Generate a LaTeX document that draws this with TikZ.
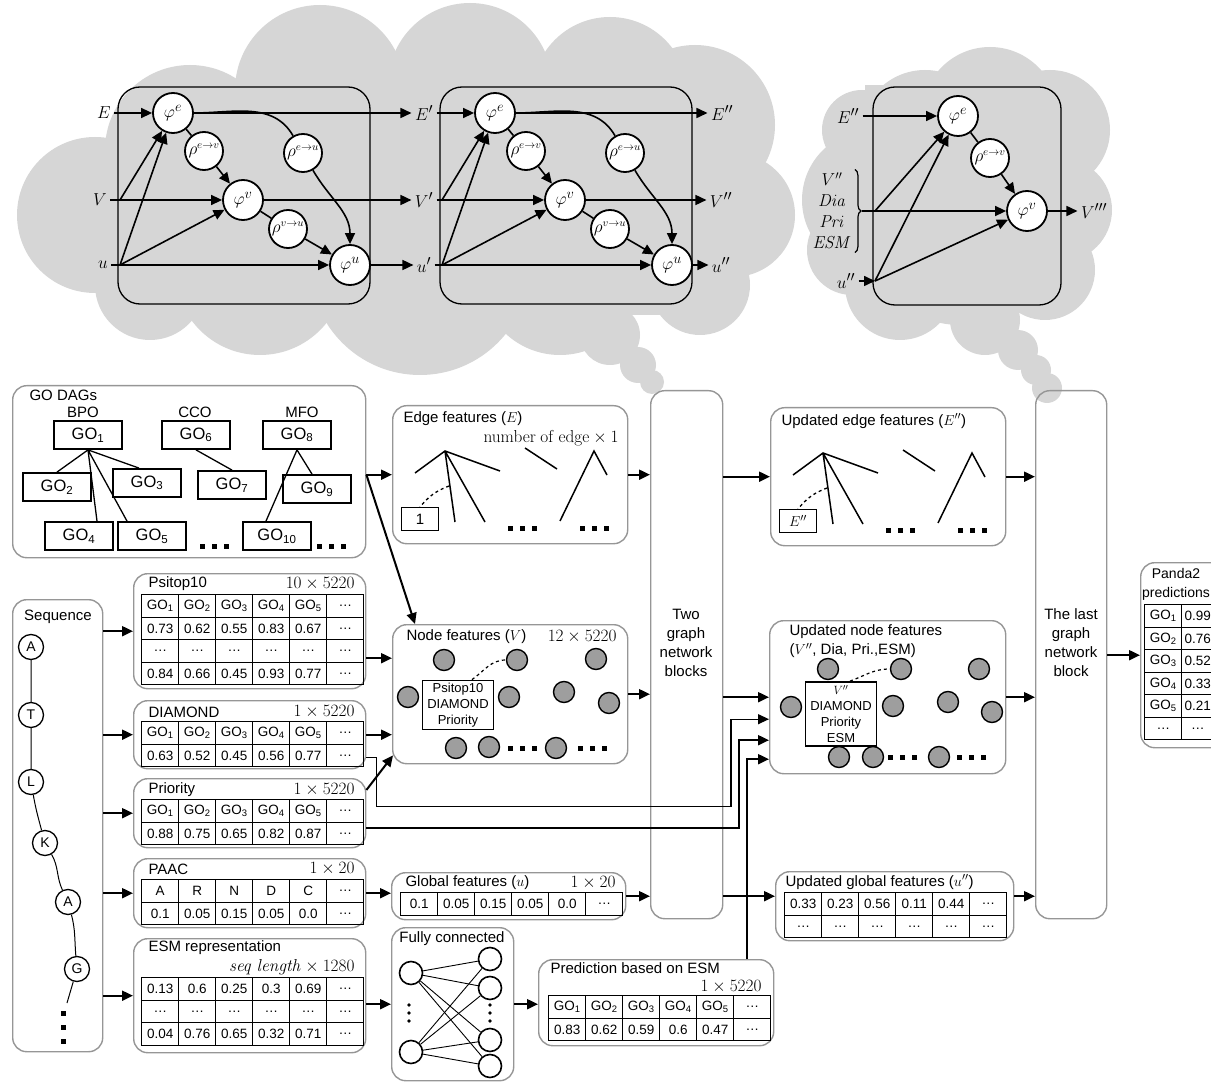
\documentclass[tikz,border=0pt]{standalone}
\usepackage[no-math]{fontspec}
\setmainfont{Liberation Sans}
\usetikzlibrary{positioning,calc,arrows.meta,matrix,decorations.pathreplacing}
\tikzset{>={Triangle[length=11pt,width=10pt]}}

\definecolor{cloudgray}{RGB}{214,214,214}
\definecolor{boxgray}{RGB}{150,150,150}
\definecolor{dotgray}{RGB}{158,158,158}

\newcommand{\lblfont}{\fontsize{15}{19}\selectfont}
\newcommand{\tabfont}{\fontsize{13.5}{16}\selectfont}
\newcommand{\gofont}{\fontsize{16.5}{19}\selectfont}
\newcommand{\mathlbl}{\fontsize{19}{22}\selectfont}
\newcommand{\rholbl}{\fontsize{16}{19}\selectfont}
\newcommand{\bracefont}{\fontsize{17}{21}\selectfont}
\newcommand{\infont}{\fontsize{13}{16}\selectfont}
\newcommand{\gon}[1]{GO\textsubscript{#1}}

\begin{document}
\begin{tikzpicture}[x=1pt,y=-1pt,
  every node/.style={font=\lblfont},
  arr/.style={->,line width=2pt},
  garr/.style={->,line width=1.6pt},
  fbox/.style={draw=boxgray,line width=1.4pt,rounded corners=14pt,anchor=north west,inner sep=0pt},
  gnframe/.style={draw,line width=1.3pt,rounded corners=22pt},
  phi/.style={circle,draw,line width=1.8pt,fill=white,minimum size=40pt,inner sep=0pt,font=\mathlbl},
  rho/.style={phi,minimum size=38pt,font=\rholbl},
  gnlbl/.style={font=\mathlbl},
  golbl/.style={draw,line width=1.8pt,minimum width=68pt,minimum height=28pt,inner sep=0pt,font=\gofont},
  tcell/.style={draw,line width=1.1pt,minimum width=37pt,minimum height=22.5pt,inner sep=0pt,anchor=center,font=\tabfont},
  ftab/.style={matrix of nodes,nodes={tcell},column sep=-1.1pt,row sep=-1.1pt,inner sep=0pt,anchor=north west},
  gdot/.style={circle,draw,line width=1.4pt,fill=dotgray,minimum size=21pt,inner sep=0pt},
  aares/.style={circle,draw,line width=1.3pt,minimum size=25pt,inner sep=0pt,font=\fontsize{14}{16}\selectfont},
  fcunit/.style={circle,draw,line width=1.6pt,fill=white,minimum size=23pt,inner sep=0pt},
  inbox/.style={draw,line width=1.8pt,fill=white,align=center,inner sep=0pt,font=\infont},
]
\useasboundingbox (0,0) rectangle (1211,1083);

% clouds
\foreach \cx/\cy/\rad in {95/215/78,150/285/55,190/150/85,320/90/85,470/85/82,610/95/78,695/125/80,733/215/62,700/285/50,260/270/85,420/265/110,560/275/80,610/335/30,638/365/18,652/382/12}
  \fill[cloudgray] (\cx,\cy) circle[radius=\rad];
\fill[cloudgray] (130,95) rectangle (740,315);
\foreach \cx/\cy/\rad in {872/200/70,862/130/40,852/250/45,925/135/65,990/115/68,1050/130/60,1060/210/52,1045/270/50,960/230/95,900/285/55,985/320/35,1018/350/20,1036/370/15,1047/388/15}
  \fill[cloudgray] (\cx,\cy) circle[radius=\rad];
\fill[cloudgray] (865,85) rectangle (1075,305);

% graph network blocks
\node[gnlbl] (lE0) at (104,113) {$E$};
\node[gnlbl] (lV0) at (100,200) {$V$};
\node[gnlbl] (lu0) at (103,265) {$u$};
\node[gnlbl] (lE1) at (424,113) {$E'$};
\node[gnlbl] (lV1) at (424,200) {$V'$};
\node[gnlbl] (lu1) at (424,265) {$u'$};
\node[gnlbl] (lE2) at (722,113) {$E''$};
\node[gnlbl] (lV2) at (721,200) {$V''$};
\node[gnlbl] (lu2) at (721,265) {$u''$};
\foreach \x/\a/\b in {118/0/1,440/1/2} {
  \draw[gnframe] (\x,87) rectangle (\x+252,304);
  \node[phi] (pe\a) at (\x+55,113) {$\varphi^e$};
  \node[rho] (rev\a) at (\x+86,151) {$\rho^{e\to v}$};
  \node[phi] (pv\a) at (\x+125,200) {$\varphi^v$};
  \node[rho] (rvu\a) at (\x+170,229) {$\rho^{v\to u}$};
  \node[phi] (pu\a) at (\x+232,265) {$\varphi^u$};
  \node[rho] (reu\a) at (\x+185,153) {$\rho^{e\to u}$};
  \coordinate (fv\a) at (\x+2,200);
  \coordinate (fu\a) at (\x+2,265);
  \draw[garr] (lE\a) -- (pe\a);
  \draw[garr] (pe\a) -- (lE\b);
  \draw[garr] (lV\a) -- (pv\a);
  \draw[garr] (pv\a) -- (lV\b);
  \draw[garr] (lu\a) -- (pu\a);
  \draw[garr] (pu\a) -- (lu\b);
  \draw[garr] (fv\a) -- (pe\a);
  \draw[garr] (fu\a) -- (pe\a);
  \draw[garr] (fu\a) -- (pv\a);
  \draw[line width=1.6pt] (pe\a) -- (rev\a);
  \draw[garr] (rev\a) -- (pv\a);
  \draw[line width=1.6pt] (pv\a) -- (rvu\a);
  \draw[garr] (rvu\a) -- (pu\a);
  \draw[line width=1.6pt] (pe\a) to[out=0,in=120] (reu\a);
  \draw[garr] (reu\a) to[out=-60,in=90] (pu\a);
}

% last block
\draw[gnframe] (873,87) rectangle (1061,305);
\node[gnlbl] (lE3) at (848,116) {$E''$};
\node[align=center,font=\bracefont] (lV3) at (832,211) {$V''$\\$\mathit{Dia}$\\$\mathit{Pri}$\\$\mathit{ESM}$};
\node[gnlbl] (lu3) at (846,281) {$u''$};
\node[gnlbl] (lV4) at (1094,211) {$V'''$};
\node[phi] (pe3) at (958,116) {$\varphi^e$};
\node[rho] (rev3) at (990,158) {$\rho^{e\to v}$};
\node[phi] (pv3) at (1027,211) {$\varphi^v$};
\draw[decorate,decoration={brace,amplitude=6pt},line width=1.2pt] (lV3.north east) -- (lV3.south east);
\coordinate (bt3) at ($(lV3.east)+(7,0)$);
\coordinate (fb3) at (875,211);
\coordinate (fu3) at (875,281);
\draw[garr] (lE3) -- (pe3);
\draw[garr] (bt3) -- (pv3);
\draw[garr] (fb3) -- (pe3);
\draw[garr] (lu3) -- (fu3);
\draw[garr] (fu3) -- (pe3);
\draw[garr] (fu3) -- (pv3);
\draw[line width=1.6pt] (pe3) -- (rev3);
\draw[garr] (rev3) -- (pv3);
\draw[garr] (pv3) -- (lV4);

% GO DAGs
\node[fbox,minimum width=353pt,minimum height=172pt] (dags) at (12,385) {};
\node[anchor=west] (dagst) at (26,395) {GO DAGs};
\node (bpo) at (83,412) {BPO};
\node (cco) at (195,412) {CCO};
\node (mfo) at (302,412) {MFO};
\node[golbl] (go1) at (88,435) {\gon{1}};
\node[golbl] (go6) at (196,435) {\gon{6}};
\node[golbl] (go8) at (297,435) {\gon{8}};
\node[golbl] (go2) at (57,487) {\gon{2}};
\node[golbl] (go3) at (147,483) {\gon{3}};
\node[golbl] (go7) at (232,485) {\gon{7}};
\node[golbl] (go9) at (317,489) {\gon{9}};
\node[golbl] (go4) at (79,536) {\gon{4}};
\node[golbl] (go5) at (152,536) {\gon{5}};
\node[golbl] (go10) at (277,536) {\gon{10}};
\draw[line width=1.3pt] (go1.south) -- (go2.north)
  (go1.south) -- ([xshift=-8pt]go3.north)
  (go1.south) -- ([xshift=18pt]go4.north)
  (go1.south) -- ([xshift=-25pt]go5.north)
  (go6.south) -- (go7.north)
  (go8.south) -- ([xshift=-5pt]go9.north)
  (go8.south) -- ([xshift=-11pt]go10.north);

% edge features
\node[fbox,minimum width=235pt,minimum height=138pt] (edgef) at (392,405) {};
\node[anchor=west] (edget) at (400,419) {Edge features ($E$)};
\node[anchor=east,font=\fontsize{16}{19}\selectfont] (edged) at (622,438) {$\mathrm{number\ of\ edge}\times 1$};
\node[fbox,minimum width=235pt,minimum height=138pt] (uedge) at (770,407) {};
\node[anchor=west] (uedget) at (778,421) {Updated edge features ($E''$)};
\foreach \dx/\dy/\leaf [count=\k] in {0/0/1,378/2/{$E''$}} {
  \begin{scope}[shift={(\dx,\dy)}]
    \coordinate (ea\k) at (445,451);
    \coordinate (eb\k) at (594,451);
    \draw[line width=1.5pt] (415,473) -- (ea\k) -- (500,471) (ea\k) -- (455,522) (ea\k) -- (485,522)
      (525,448) -- (557,469) (560,521) -- (eb\k) -- (607,475);
    \node[draw,line width=1pt,minimum width=37pt,minimum height=23pt,inner sep=0pt] (eleaf\k) at (420,519) {\leaf};
    \draw[dashed,line width=1.3pt] (449,486) to[bend right=15] (eleaf\k.north);
  \end{scope}
}
\foreach \x/\y in {200/544,317/544,508/526,580/526,886/528,958/528,508/746,578/746,888/755,957/755}
  \foreach \d in {0,12,24} \fill (\x+\d,\y) rectangle ++(5,5);

% network block columns
\node[fbox,minimum width=72pt,minimum height=528pt] (two) at (650,390) {};
\node[align=center] (twot) at (686,643) {Two\\graph\\network\\blocks};
\node[fbox,minimum width=71pt,minimum height=528pt] (last) at (1035,390) {};
\node[align=center] (lastt) at (1071,643) {The last\\graph\\network\\block};

% predictions
\node[fbox,minimum width=100pt,minimum height=185pt] (panda) at (1140,562) {};
\node[align=center,font=\fontsize{14}{19}\selectfont] (pandat) at (1176,584) {Panda2\\predictions};
\matrix (pandatab) [ftab,column 2/.style={nodes={minimum width=32pt}}] at (1144,604) {
  \gon{1} & 0.99 \\ \gon{2} & 0.76 \\ \gon{3} & 0.52 \\ \gon{4} & 0.33 \\ \gon{5} & 0.21 \\ \dots & \dots \\
};

% sequence
\node[fbox,minimum width=90pt,minimum height=452pt] (seq) at (12,599) {};
\node (seqt) at (58,617) {Sequence};
\foreach \aa/\p [count=\i] in {A/{(31,647)},T/{(31,715)},L/{(31,782)},K/{(45,843)},A/{(68,902)},G/{(77,969)}}
  \node[aares] (aa\i) at \p {\aa};
\coordinate (seqend) at (67,1003);
\draw[line width=1pt] (aa1) -- (aa2) -- (aa3) to[out=-80,in=105] (aa4) to[out=-60,in=115] (aa5)
  to[out=-75,in=95] (aa6) -- (seqend);
\foreach \d in {0,14,28} \fill (61,1011+\d) rectangle ++(5,5);

% feature tables
\node[fbox,minimum width=232pt,minimum height=115pt] (psi) at (133,573) {};
\node[anchor=west] (psit) at (145,584) {Psitop10};
\node[anchor=east,font=\fontsize{16}{19}\selectfont] (psid) at (358,584) {$10\times 5220$};
\matrix (psitab) [ftab] at (141,594) {
  \gon{1} & \gon{2} & \gon{3} & \gon{4} & \gon{5} & \dots \\
  0.73 & 0.62 & 0.55 & 0.83 & 0.67 & \dots \\
  \dots & \dots & \dots & \dots & \dots & \dots \\
  0.84 & 0.66 & 0.45 & 0.93 & 0.77 & \dots \\
};
\node[fbox,minimum width=232pt,minimum height=68pt] (dia) at (133,700) {};
\node[anchor=west] (diat) at (145,712) {DIAMOND};
\node[anchor=east,font=\fontsize{16}{19}\selectfont] (diad) at (358,712) {$1\times 5220$};
\matrix (diatab) [ftab] at (141,721) {
  \gon{1} & \gon{2} & \gon{3} & \gon{4} & \gon{5} & \dots \\
  0.63 & 0.52 & 0.45 & 0.56 & 0.77 & \dots \\
};
\node[fbox,minimum width=232pt,minimum height=69pt] (pri) at (133,778) {};
\node[anchor=west] (prit) at (145,790) {Priority};
\node[anchor=east,font=\fontsize{16}{19}\selectfont] (prid) at (358,790) {$1\times 5220$};
\matrix (pritab) [ftab] at (141,799) {
  \gon{1} & \gon{2} & \gon{3} & \gon{4} & \gon{5} & \dots \\
  0.88 & 0.75 & 0.65 & 0.82 & 0.87 & \dots \\
};
\node[fbox,minimum width=232pt,minimum height=69pt] (paac) at (133,858) {};
\node[anchor=west] (paact) at (145,869) {PAAC};
\node[anchor=east,font=\fontsize{16}{19}\selectfont] (paacd) at (358,869) {$1\times 20$};
\matrix (paactab) [ftab] at (141,879) {
  A & R & N & D & C & \dots \\
  0.1 & 0.05 & 0.15 & 0.05 & 0.0 & \dots \\
};
\node[fbox,minimum width=232pt,minimum height=114pt] (esm) at (133,938) {};
\node[anchor=west] (esmt) at (145,948) {ESM representation};
\node[anchor=east,font=\fontsize{16}{19}\selectfont] (esmd) at (358,967) {$\mathit{seq\ length}\times 1280$};
\matrix (esmtab) [ftab] at (141,977) {
  0.13 & 0.6 & 0.25 & 0.3 & 0.69 & \dots \\
  \dots & \dots & \dots & \dots & \dots & \dots \\
  0.04 & 0.76 & 0.65 & 0.32 & 0.71 & \dots \\
};

% node features
\node[fbox,minimum width=235pt,minimum height=139pt] (nodef) at (392,624) {};
\node[anchor=west] (nodet) at (403,637) {Node features ($V$)};
\node[anchor=east,font=\fontsize{16}{19}\selectfont] (noded) at (620,637) {$12\times 5220$};
\foreach \p [count=\i] in {(444,660),(517,660),(596,659),(408,697),(509,697),(564,692),(609,703),(456,748),(489,747),(556,748)}
  \node[gdot] (nf\i) at \p {};
\node[inbox,minimum width=71pt,minimum height=49pt] (nfin) at (458,705) {Psitop10\\DIAMOND\\Priority};
\draw[dashed,line width=1.2pt] ([xshift=14pt]nfin.north) to[out=35,in=180] (nf2.west);

% updated node features
\node[fbox,minimum width=236pt,minimum height=153pt] (unode) at (769,620) {};
\node[anchor=west,align=left] (unodet) at (786,641) {Updated node features\\($V''$, Dia, Pri.,ESM)};
\foreach \p [count=\i] in {(828,669),(901,669),(979,669),(791,707),(893,706),(948,702),(992,712),(839,757),(873,757),(939,757)}
  \node[gdot] (un\i) at \p {};
\node[inbox,minimum width=71pt,minimum height=64pt] (unin) at (841,714) {$V''$\\DIAMOND\\Priority\\ESM};
\draw[dashed,line width=1.2pt] ([xshift=9pt]unin.north) to[out=20,in=180] (un2.west);

% global features
\node[fbox,minimum width=234pt,minimum height=47pt] (glob) at (391,872) {};
\node[anchor=west] (globt) at (402,883) {Global features ($u$)};
\node[anchor=east,font=\fontsize{16}{19}\selectfont] (globd) at (619,883) {$1\times 20$};
\matrix (globtab) [ftab] at (400,892) {
  0.1 & 0.05 & 0.15 & 0.05 & 0.0 & \dots \\
};
\node[fbox,minimum width=238pt,minimum height=69pt] (uglob) at (775,871) {};
\node[anchor=west] (uglobt) at (782,882) {Updated global features ($u''$)};
\matrix (uglobtab) [ftab] at (784,892) {
  0.33 & 0.23 & 0.56 & 0.11 & 0.44 & \dots \\
  \dots & \dots & \dots & \dots & \dots & \dots \\
};

% fully connected
\node[fbox,minimum width=122pt,minimum height=153pt] (fc) at (391,927) {};
\node (fct) at (452,939) {Fully connected};
\node[fcunit] (fcl1) at (411,973) {};
\node[fcunit] (fcl2) at (411,1052) {};
\foreach \y [count=\i] in {959,988,1040,1066}
  \node[fcunit] (fcr\i) at (490,\y) {};
\foreach \l in {1,2}
  \foreach \r in {1,...,4}
    \draw[line width=0.9pt] (fcl\l) -- (fcr\r);
\foreach \x in {409,490}
  \foreach \d in {0,8,16} \fill (\x,1005+\d) circle[radius=1.8];

% prediction based on ESM
\node[fbox,minimum width=235pt,minimum height=86pt] (pred) at (538,959) {};
\node[anchor=west] (predt) at (547,968) {Prediction based on ESM};
\node[anchor=east,font=\fontsize{16}{19}\selectfont] (predd) at (765,987) {$1\times 5220$};
\matrix (predtab) [ftab] at (548,995) {
  \gon{1} & \gon{2} & \gon{3} & \gon{4} & \gon{5} & \dots \\
  0.83 & 0.62 & 0.59 & 0.6 & 0.47 & \dots \\
};

% connectors
\coordinate (dagout) at (dags.east |- edgef.west);
\draw[arr] (dagout) -- (edgef.west);
\draw[arr] (dagout) -- ([xshift=23pt]nodef.north west);
\draw[arr] (edgef.east) -- (edgef.east -| two.west);
\draw[arr] (two.east |- uedge.west) -- (uedge.west);
\draw[arr] (uedge.east) -- (uedge.east -| last.west);
\foreach \b in {psi,dia,pri,paac,esm}
  \draw[arr] (seq.east |- \b.west) -- (\b.west);
\coordinate (psiout) at ($(psi.east)+(0,27)$);
\draw[arr] (psiout) -- (psiout -| nodef.west);
\draw[arr] (dia.east) -- (dia.east -| nodef.west);
\draw[arr] ($(pri.north east)+(0,12)$) -- ($(nodef.south west)+(1,-9)$);
\draw[arr] (nodef.east) -- (nodef.east -| two.west);
\draw[arr] (two.east |- unode.west) -- (unode.west);
\coordinate (uin1) at ($(unode.west)+(0,22)$);
\coordinate (uin2) at ($(unode.west)+(0,43)$);
\coordinate (uin3) at ($(unode.west)+(0,62)$);
\coordinate (diaout) at ($(dia.east)+(0,23)$);
\draw[->,line width=1.2pt] (diaout) -- ++(10,0) -- ++(0,49) -| ($(uin1)+(-38,0)$) -- (uin1);
\coordinate (priout) at ($(pri.east)+(0,15)$);
\draw[arr] (priout) -| ($(uin2)+(-30,0)$) -- (uin2);
\coordinate (predup) at ($(pred.north east)+(-27,0)$);
\draw[arr] (predup) |- (uin3);
\draw[arr] (unode.east) -- (unode.east -| last.west);
\draw[arr] (paac.east) -- (paac.east -| glob.west);
\draw[arr] (glob.east) -- (glob.east -| two.west);
\coordinate (globout) at (two.east |- glob.east);
\draw[arr] (globout) -- (globout -| uglob.west);
\draw[arr] (globout -| uglob.east) -- (globout -| last.west);
\draw[arr] (esm.east |- fc.west) -- (fc.west);
\draw[arr] (fc.east) -- (fc.east -| pred.west);
\draw[arr] (last.east |- panda.west) -- (panda.west);
\end{tikzpicture}
\end{document}
